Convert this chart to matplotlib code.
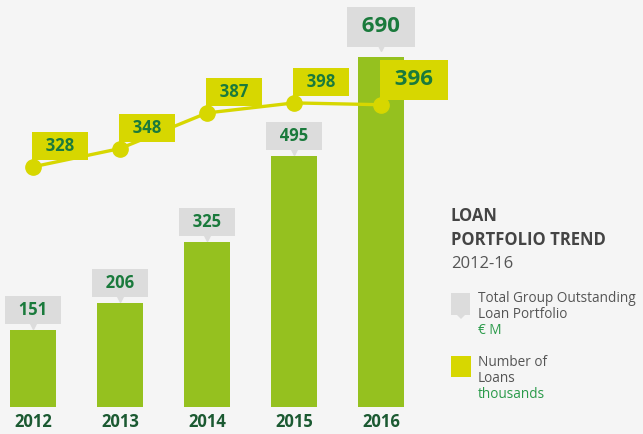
import matplotlib
matplotlib.use('Agg')
import matplotlib.pyplot as plt
import matplotlib.transforms as mt
from matplotlib.patches import Rectangle, Polygon

years = ['2012', '2013', '2014', '2015', '2016']
portfolio = [151, 206, 325, 495, 690]   # EUR M
loans = [328, 348, 387, 398, 396]       # thousands

bg = '#f5f5f5'
bar_green = '#95c11f'
yellow = '#d7d700'
txt_green = '#1a7a3c'
dark_green = '#1b5a32'
grey_box = '#dcdcdc'

plt.rcParams['font.family'] = ['Open Sans', 'DejaVu Sans']

W, H = 643, 434
fig = plt.figure(figsize=(W / 100, H / 100), dpi=100, facecolor=bg)
ax = fig.add_axes([0, 0, 1, 1])
ax.set_facecolor(bg)
ax.axis('off')

x = list(range(len(years)))
# pixel x = 33 + 87*i
ax.set_xlim(-33 / 87, (W - 33) / 87)
# bars: baseline at pixel 407, 690 reaches pixel 57
k = 350 / 690
ax.set_ylim(-(H - 407) / k, 407 / k)
ax.bar(x, portfolio, width=46 / 87, color=bar_green, zorder=1)

def label(axis, i, v, dx, dy, fs, fc, big):
    s = ' %d ' % v if big else '  %d  ' % v
    axis.annotate(s, (i, v), xytext=(dx * 0.72, dy * 0.72), textcoords='offset points',
                  ha='center', va='center', fontsize=fs, fontweight='bold', color=txt_green,
                  bbox=dict(boxstyle='square,pad=%s' % ('0.42' if big else '0.3'), fc=fc, ec='none'),
                  zorder=5)

# bar labels: grey boxes with small pointer
for i, v in enumerate(portfolio):
    big = i == len(portfolio) - 1
    up = 30 if big else 20
    label(ax, i, v, 0, up, 16 if big else 12, grey_box, big)
    tr = mt.offset_copy(ax.transData, fig=fig, y=(up - (19 if big else 14)) * 0.72, units='points')
    ax.plot(i, v, marker='v', ms=7, color=grey_box, transform=tr, zorder=3)

# year labels
for i, y in enumerate(years):
    ax.text(i, -(422 - 407) / k, y, ha='center', va='center', fontsize=12,
            fontweight='bold', color=dark_green)

# line on twin axis
ax2 = ax.twinx()
ax2.axis('off')
ax2.set_ylim(35.4, 510.7)
ax2.plot(x, loans, color=yellow, lw=2.4, marker='o', ms=11, zorder=4)
for i, v in enumerate(loans):
    big = i == len(loans) - 1
    dx, dy = (33, 25) if big else (27, 21)
    label(ax2, i, v, dx, dy, 16 if big else 12, yellow, big)

# side legend / title
def fx(px): return px / W
def fy(py): return 1 - py / H

fig.text(fx(451), fy(216), 'LOAN', fontsize=12, fontweight='bold', color='#444444', va='center')
fig.text(fx(451), fy(240), 'PORTFOLIO TREND', fontsize=12, fontweight='bold', color='#444444', va='center')
fig.text(fx(451), fy(264), '2012-16', fontsize=12, color='#555555', va='center')

fig.patches.append(Rectangle((fx(451), fy(315)), 19 / W, 22 / H, transform=fig.transFigure,
                             fc=grey_box, ec='none'))
fig.patches.append(Polygon([(fx(457), fy(315)), (fx(465), fy(315)), (fx(461), fy(319))],
                           transform=fig.transFigure, fc=grey_box, ec='none'))
fig.text(fx(478), fy(298), 'Total Group Outstanding', fontsize=9.8, color='#555555', va='center')
fig.text(fx(478), fy(314), 'Loan Portfolio', fontsize=9.8, color='#555555', va='center')
fig.text(fx(478), fy(331), '€ M', fontsize=9.8, color='#2a9a4a', va='center')

fig.patches.append(Rectangle((fx(451), fy(377)), 20 / W, 21 / H, transform=fig.transFigure,
                             fc=yellow, ec='none'))
fig.text(fx(478), fy(363), 'Number of', fontsize=9.8, color='#555555', va='center')
fig.text(fx(478), fy(379), 'Loans', fontsize=9.8, color='#555555', va='center')
fig.text(fx(478), fy(395), 'thousands', fontsize=9.8, color='#2a9a4a', va='center')

fig.savefig('out.png', dpi=100, facecolor=bg)
